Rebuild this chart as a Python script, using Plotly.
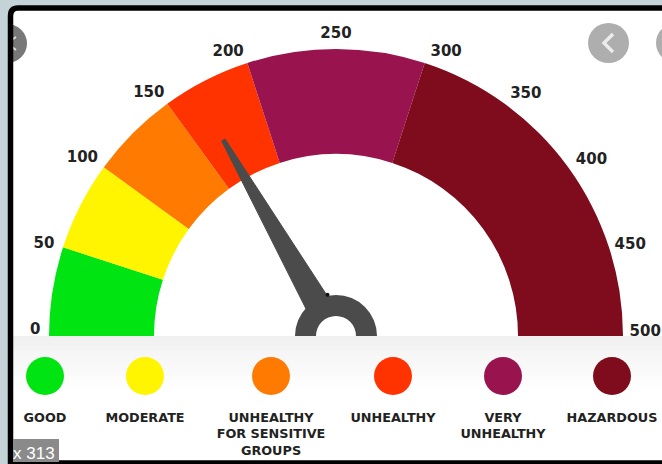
import math
import plotly.graph_objects as go

# ---- data ----
BIN_EDGES = [0, 50, 100, 150, 200, 300, 500]
TICKS = [0, 50, 100, 150, 200, 250, 300, 350, 400, 450, 500]
NEEDLE_VALUE = 167
CATEGORIES = ["GOOD", "MODERATE", "UNHEALTHY<br>FOR SENSITIVE<br>GROUPS", "UNHEALTHY",
              "VERY<br>UNHEALTHY", "HAZARDOUS"]
COLORS = ["#00e411", "#fff500", "#ff7a00", "#ff3300", "#99144f", "#7e0c1d"]

# ---- layout constants ----
W, H = 662, 464
CX, CY = 336, 336
R_MAX = 326
R_OUT, R_IN = 287, 182
HUB_OUT, HUB_IN = 41, 20
# where the tick labels sit round the dial (the artwork places them by eye)
LABEL_RADIUS = [300.8, 306, 310, 306.8, 303.8, 302, 304.6, 307, 310, 308, 309.3]
LABEL_ANGLE = [1.1, 17.4, 35.1, 52.4, 69.2, 90, 111.2, 128.2, 145.5, 162.8, 179.3]
LEGEND_X = [45, 145, 271, 393, 503, 612]
DARK = "#4b4b4b"
TEXT = "#222222"
FONT = "DejaVu Sans"


def ang(v):
    return v * 180.0 / 500.0


def needle_pts():
    """Needle polygon in (r, theta) around the value angle."""
    t = ang(NEEDLE_VALUE)
    pts = [(38, -12.5), (226, -2), (226, 2), (38, 12.5)]
    rr, tt = [], []
    for a, w in pts + pts[:1]:
        rr.append(math.hypot(a, w))
        tt.append(t + math.degrees(math.atan2(w, a)))
    return rr, tt


fig = go.Figure()

# gauge sectors
lo, hi = BIN_EDGES[:-1], BIN_EDGES[1:]
fig.add_trace(go.Barpolar(
    theta=[ang((a + b) / 2) for a, b in zip(lo, hi)],
    width=[ang(b - a) for a, b in zip(lo, hi)],
    r=[R_OUT - R_IN] * len(lo), base=[R_IN] * len(lo),
    marker=dict(color=COLORS, line=dict(width=0)),
    subplot="polar", showlegend=False, hoverinfo="skip"))

# hub
fig.add_trace(go.Barpolar(
    theta=[90], width=[180], r=[HUB_OUT - HUB_IN], base=[HUB_IN],
    marker=dict(color=DARK, line=dict(width=0)),
    subplot="polar", showlegend=False, hoverinfo="skip"))

# needle
nr, nt = needle_pts()
fig.add_trace(go.Scatterpolar(
    r=nr, theta=nt, mode="lines", fill="toself", fillcolor=DARK,
    line=dict(color=DARK, width=1), subplot="polar",
    showlegend=False, hoverinfo="skip"))
fig.add_trace(go.Scatterpolar(
    r=[nr[3] + 2], theta=[nt[3]], mode="markers",
    marker=dict(size=4, color="#111111"), subplot="polar",
    showlegend=False, hoverinfo="skip"))

# tick labels
fig.add_trace(go.Scatterpolar(
    r=LABEL_RADIUS, theta=LABEL_ANGLE,
    text=[str(v) for v in TICKS], mode="text", textposition="middle center",
    textfont=dict(family=FONT, size=15, color=TEXT, weight="bold"),
    cliponaxis=False, subplot="polar", showlegend=False, hoverinfo="skip"))

# legend dots + labels
fig.add_trace(go.Scatter(
    x=LEGEND_X, y=[376] * 6, mode="markers",
    marker=dict(size=38, color=COLORS, line=dict(width=0)),
    showlegend=False, hoverinfo="skip", xaxis="x", yaxis="y"))
fig.add_trace(go.Scatter(
    x=LEGEND_X, y=[412] * 6, mode="text", text=CATEGORIES,
    textposition="bottom center",
    textfont=dict(family=FONT, size=12.8, color=TEXT, weight="bold"),
    showlegend=False, hoverinfo="skip", xaxis="x", yaxis="y"))

# page furniture
BG = "#c3d3d8"
shapes = [dict(type="path",
               path="M 10.5 16 Q 10.5 8 18 8 L 680 8 L 680 463 L 10.5 463 Z",
               fillcolor="white", line=dict(width=0), layer="below")]
# soft shadow under the gauge
steps = 12
for i in range(steps):
    level = int(240 + (255 - 240) * (i / (steps - 1)) ** 0.7)
    shapes.append(dict(type="rect", x0=13, x1=662, y0=336 + i * 5, y1=336 + (i + 1) * 5,
                       fillcolor=f"rgb({level},{level},{level})", line=dict(width=0), layer="below"))
# navigation buttons
shapes += [
    dict(type="circle", x0=-13, x1=27, y0=24, y1=63, fillcolor="#787878", line=dict(width=0), layer="below"),
    dict(type="path", path="M 16 37 L 7 43 L 16 50", line=dict(color="#e0e0e0", width=2), layer="below"),
    dict(type="circle", x0=588, x1=629, y0=23, y1=63, fillcolor="#aeaeae", line=dict(width=0), layer="below"),
    dict(type="path", path="M 613 34 L 604 43 L 613 52", line=dict(color="#ececec", width=3.5), layer="below"),
    dict(type="circle", x0=656, x1=697, y0=23, y1=63, fillcolor="#aeaeae", line=dict(width=0), layer="below"),
]
# frame
shapes += [
    dict(type="rect", x0=0, x1=8, y0=0, y1=464, fillcolor=BG, line=dict(width=0), layer="below"),
    dict(type="path",
         path="M 10.5 464 L 10.5 16 Q 10.5 8 18 8 L 670 8 L 670 463 L 10.5 463",
         line=dict(color="black", width=5.5), layer="below"),
    dict(type="rect", x0=0, x1=662, y0=0, y1=5, fillcolor=BG, line=dict(width=0), layer="below"),
    dict(type="rect", x0=13, x1=59, y0=439, y1=462, fillcolor="#8a8a8a", line=dict(width=0), layer="below"),
]
for s in shapes:
    s["xref"], s["yref"] = "x", "y"

fig.update_layout(
    width=W, height=H, margin=dict(l=0, r=0, t=0, b=0), autosize=False,
    paper_bgcolor=BG, plot_bgcolor="rgba(0,0,0,0)",
    xaxis=dict(range=[0, W], domain=[0, 1], visible=False, fixedrange=True),
    yaxis=dict(range=[H, 0], domain=[0, 1], visible=False, fixedrange=True),
    polar=dict(
        domain=dict(x=[(CX - R_MAX) / W, (CX + R_MAX) / W],
                    y=[(H - CY) / H, (H - CY + R_MAX) / H]),
        sector=[0, 180], bgcolor="rgba(0,0,0,0)",
        radialaxis=dict(range=[0, R_MAX], visible=False),
        angularaxis=dict(rotation=180, direction="clockwise", visible=False),
        barmode="overlay",
    ),
    shapes=shapes,
    annotations=[dict(text="x 313", xref="x", yref="y", x=11, y=453, xanchor="left",
                      yanchor="middle", showarrow=False,
                      font=dict(family="Liberation Sans", size=17, color="white"))],
)

fig.write_html("out.html", config={"displayModeBar": False},
               post_script="document.documentElement.style.overflow='hidden';"
                           "document.body.style.margin='0';")
